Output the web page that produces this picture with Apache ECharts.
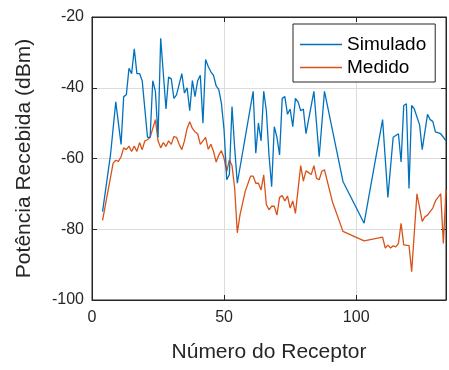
<!DOCTYPE html>
<html>
<head>
<meta charset="utf-8">
<script src="https://cdn.jsdelivr.net/npm/echarts@6/dist/echarts.min.js"></script>
<style>
  html, body { margin: 0; padding: 0; background: #ffffff; }
  #chart { width: 449px; height: 370px; }
</style>
</head>
<body>
<div id="chart"></div>
<script>
// Received power per receptor: simulated model vs. field measurement
const simReceptor = [4, 7, 9, 11, 12, 13, 14, 15, 16, 17, 18, 19, 21, 22, 23, 24, 25, 26, 28, 29, 30, 31, 32, 34, 35, 36, 37, 38, 39, 40, 41, 42, 43, 44, 45, 46, 47, 48, 49, 50, 51, 52, 53, 54, 55, 61, 62, 63, 64, 65, 66, 67, 68, 69, 70, 71, 72, 73, 74, 75, 76, 77, 78, 79, 80, 81, 83, 84, 86, 88, 95, 103, 110, 112, 114, 115, 116, 117, 118, 119, 120, 121, 122, 124, 125, 127, 128, 129, 130, 132, 134];
const simPower = [-75, -59, -44, -56, -42.5, -42, -34.5, -36, -29, -36, -36, -38, -54, -54, -38, -41, -54, -26, -46, -37, -37.5, -43, -42, -36, -41.5, -40, -46.5, -38, -42.5, -38, -36.5, -50, -32, -34, -35.5, -36.5, -39.5, -40.5, -44.5, -52, -66, -64.5, -45.3, -57, -67, -41, -58.5, -50, -55, -41, -46.5, -59, -68, -51, -54, -59, -43, -42.5, -47.5, -46, -51, -43, -44, -46.5, -46, -53, -45, -41, -59.5, -41, -66.5, -78.3, -49, -71, -54, -53.5, -53, -61, -45, -44.5, -68.5, -45, -46, -50.5, -57.5, -47.5, -49, -49.5, -52.5, -53, -55];

const medReceptor = [4, 8, 9, 10, 11, 12, 13, 14, 15, 16, 17, 18, 19, 20, 21, 22, 24, 25, 26, 27, 28, 29, 30, 31, 32, 33, 34, 35, 36, 37, 38, 39, 40, 41, 42, 43, 44, 45, 46, 47, 48, 49, 50, 51, 52, 53, 54, 55, 56, 58, 60, 61, 62, 63, 64, 65, 66, 67, 68, 69, 70, 71, 72, 73, 74, 75, 76, 77, 79, 80, 81, 82, 83, 84, 85, 86, 87, 88, 91, 95, 103, 110, 111, 112, 113, 114, 115, 116, 117, 118, 120, 121, 123, 125, 126, 127, 129, 130, 132, 133, 134];
const medPower = [-77.5, -61.3, -60.5, -60.8, -59.5, -57, -57.5, -56.5, -58, -56.5, -58, -55.5, -57.5, -55, -54.7, -54, -49, -55, -57, -55.5, -56.6, -55, -56, -53.8, -54, -56, -57.5, -55, -51.5, -49.6, -51.5, -52.5, -53, -56, -55, -54, -57.4, -56, -58, -61, -59, -57.8, -60, -63.7, -60.4, -62, -68.4, -81, -76, -69.3, -65, -65, -67, -67, -68.9, -64.6, -73, -74.5, -73.5, -73.5, -76, -71, -70.5, -72, -70.6, -74, -72, -75.5, -62, -66.4, -63.5, -64, -64.5, -62, -65.6, -66, -63.6, -63.2, -72.2, -80.6, -83.3, -82.2, -85.3, -84.5, -85.3, -84.7, -85, -84, -78.3, -84.4, -84.6, -92, -70, -77.8, -76.5, -76, -74, -72, -70, -84, -69];

const xTickValues = [0, 50, 100];
const yTickValues = [-100, -80, -60, -40, -20];

const seriesNames = ['Simulado', 'Medido'];
const seriesColors = ['#0072BD', '#D95319'];

const toPairs = (xs, ys) => xs.map((x, i) => [x, ys[i]]);

const axisInk = '#262626';
const font = 'Liberation Sans, Arial, Helvetica, sans-serif';

const chart = echarts.init(document.getElementById('chart'), null, { renderer: 'canvas' });

const xRange = { type: 'value', min: 0, max: 134, interval: 50 };
const yRange = { type: 'value', min: -100, max: -20, interval: 20 };
const tickStyle = { show: true, inside: true, length: 5, lineStyle: { color: axisInk } };

chart.setOption({
  animation: false,
  backgroundColor: '#ffffff',
  grid: {
    left: 92, right: 1, top: 17, bottom: 70,
    show: true, borderColor: axisInk, borderWidth: 1, backgroundColor: 'transparent'
  },
  legend: {
    data: seriesNames,
    orient: 'vertical',
    left: 293, top: 24,
    icon: 'rect',
    itemWidth: 42, itemHeight: 1.5, itemGap: 4,
    padding: [11, 9, 5, 7],
    backgroundColor: '#ffffff',
    borderColor: axisInk, borderWidth: 1,
    textStyle: { fontFamily: font, fontSize: 19, color: '#000000' }
  },
  xAxis: [
    Object.assign({}, xRange, {
      position: 'bottom',
      name: 'Número do Receptor',
      nameLocation: 'middle', nameGap: 42,
      nameTextStyle: { fontFamily: font, fontSize: 21, color: axisInk },
      axisLine: { show: true, onZero: false, lineStyle: { color: axisInk, width: 1 } },
      axisTick: tickStyle,
      axisLabel: {
        fontFamily: font, fontSize: 16, color: axisInk, margin: 10,
        formatter: v => (xTickValues.includes(v) ? String(v) : '')
      },
      splitLine: { show: true, lineStyle: { color: '#dcdcdc', width: 1 } }
    }),
    Object.assign({}, xRange, {
      position: 'top',
      axisLine: { show: true, onZero: false, lineStyle: { color: axisInk, width: 1 } },
      axisTick: tickStyle,
      axisLabel: { show: false },
      splitLine: { show: false }
    })
  ],
  yAxis: [
    Object.assign({}, yRange, {
      position: 'left',
      name: 'Potência Recebida (dBm)',
      nameLocation: 'middle', nameGap: 57,
      nameTextStyle: { fontFamily: font, fontSize: 21, color: axisInk },
      axisLine: { show: true, onZero: false, lineStyle: { color: axisInk, width: 1 } },
      axisTick: tickStyle,
      axisLabel: {
        fontFamily: font, fontSize: 16, color: axisInk, margin: 8,
        formatter: v => (yTickValues.includes(v) ? String(v) : '')
      },
      splitLine: { show: true, lineStyle: { color: '#dcdcdc', width: 1 } }
    }),
    Object.assign({}, yRange, {
      position: 'right',
      axisLine: { show: true, onZero: false, lineStyle: { color: axisInk, width: 1 } },
      axisTick: tickStyle,
      axisLabel: { show: false },
      splitLine: { show: false }
    })
  ],
  series: [
    {
      name: seriesNames[0], type: 'line',
      data: toPairs(simReceptor, simPower),
      symbol: 'none', color: seriesColors[0],
      lineStyle: { width: 1.3, color: seriesColors[0] }, z: 3
    },
    {
      name: seriesNames[1], type: 'line',
      data: toPairs(medReceptor, medPower),
      symbol: 'none', color: seriesColors[1],
      lineStyle: { width: 1.3, color: seriesColors[1] }, z: 2
    }
  ]
});
</script>
</body>
</html>
